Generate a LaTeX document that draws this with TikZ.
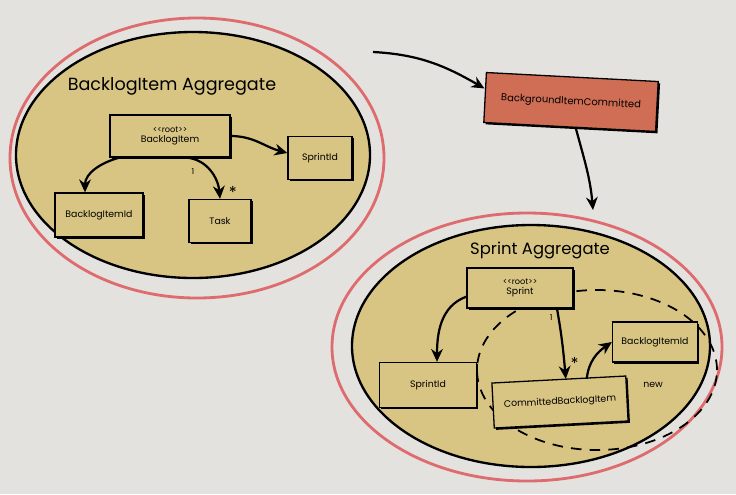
\documentclass[tikz,border=0pt]{standalone}
\usepackage{fontspec}
\setmainfont{Poppins}
\usetikzlibrary{arrows.meta,shadows}
\definecolor{myyellow}{HTML}{D8C584}
\definecolor{myred}{HTML}{DE6C6E}
\definecolor{myorange}{HTML}{D06E55}
\definecolor{mypaper}{HTML}{E3E2DE}

\begin{document}
\begin{tikzpicture}[x=0.03cm, y=0.03cm,
    box/.style={draw, line width=1.1pt, fill=myyellow, align=center, inner sep=1pt,
        font=\fontsize{8}{9}\selectfont,
        drop shadow={opacity=1, fill=black, shadow xshift=1.6pt, shadow yshift=-1.6pt}},
    link/.style={line width=1.9pt, -{Stealth[length=11pt,width=10pt]}},
    rim/.style={draw=myred, line width=2.4pt},
    area/.style={draw=black, line width=2pt, fill=myyellow},
    heading/.style={font=\fontsize{15}{16}\selectfont}]
    % paper
    \fill[mypaper] (0,0) rectangle (736,-494);

    % BacklogItem aggregate
    \draw[rim] (197,-158) ellipse [x radius=187, y radius=140];
    \draw[area] (193,-155) ellipse [x radius=177, y radius=123];
    \node[heading] (bititle) at (172,-86) {BacklogItem Aggregate};
    \node[box, minimum width=3.6cm, minimum height=1.26cm] (biroot) at (170,-136)
        {{\fontsize{7}{7.5}\selectfont<{}<root>{}>}\\BacklogItem};
    \node[box, minimum width=1.92cm, minimum height=1.29cm] (sprintid1) at (320,-158) {SprintId};
    \node[box, minimum width=2.64cm, minimum height=1.32cm] (bitemid1) at (99,-215) {BacklogItemId};
    \node[box, minimum width=1.86cm, minimum height=1.29cm] (task) at (220,-221) {Task};
    \draw[link] ([xshift=0.3cm]biroot.south west) to[out=195, in=90] ([xshift=-0.42cm]bitemid1.north);
    \draw[link] ([xshift=0.5cm]biroot.south) to[out=-5, in=95] node[pos=0.25, below left=1pt, font=\fontsize{7}{8}\selectfont] {1}
        node[pos=0.9, right=4pt, font=\fontsize{14}{14}\selectfont] {*} (task.north);
    \draw[link] (biroot.east) to[out=0, in=165] ([yshift=0.15cm]sprintid1.west);

    % domain event
    \node[box, fill=myorange, minimum width=5.16cm, minimum height=1.5cm, rotate=-3,
        font=\fontsize{8.5}{9}\selectfont] (event) at (571,-102) {BackgroundItemCommitted};
    \coordinate (src) at (373,-52);
    \coordinate (sprinttop) at (593,-210);
    \draw[link] (src) to[out=-3, in=150] ([yshift=0.27cm]event.west);
    \draw[link] ([xshift=0.18cm]event.south) to[out=-75, in=95] (sprinttop);

    % Sprint aggregate
    \draw[rim] (527,-347) ellipse [x radius=195, y radius=134];
    \draw[area] (531,-346) ellipse [x radius=179, y radius=121];
    \draw[line width=1.5pt, dash pattern=on 9pt off 7pt] (597,-370) ellipse [x radius=120, y radius=80];
    \node[heading, font=\fontsize{14}{15}\selectfont] (sptitle) at (540,-250) {Sprint Aggregate};
    \node[box, minimum width=3.18cm, minimum height=1.2cm] (sprint) at (520,-288)
        {{\fontsize{7}{7.5}\selectfont<{}<root>{}>}\\Sprint};
    \node[box, minimum width=2.91cm, minimum height=1.35cm] (sprintid2) at (428,-385) {SprintId};
    \node[box, minimum width=4.02cm, minimum height=1.35cm, rotate=3] (committed) at (560,-402) {CommittedBacklogItem};
    \node[box, minimum width=2.55cm, minimum height=1.2cm] (bitemid2) at (655,-342) {BacklogItemId};
    \node[font=\fontsize{8}{9}\selectfont] (newlabel) at (653,-385) {new};
    \draw[link] ([yshift=0.36cm]sprint.south west) to[out=200, in=90] ([xshift=0.27cm]sprintid2.north);
    \draw[link] ([xshift=1.11cm]sprint.south) to[out=-80, in=95] node[pos=0.12, left=1pt, font=\fontsize{7}{8}\selectfont] {1}
        node[pos=0.8, right=1pt, font=\fontsize{14}{14}\selectfont] {*} ([xshift=0.21cm]committed.north);
    \draw[link] ([xshift=0.84cm]committed.north) to[out=85, in=215] (bitemid2.west);
\end{tikzpicture}
\end{document}
